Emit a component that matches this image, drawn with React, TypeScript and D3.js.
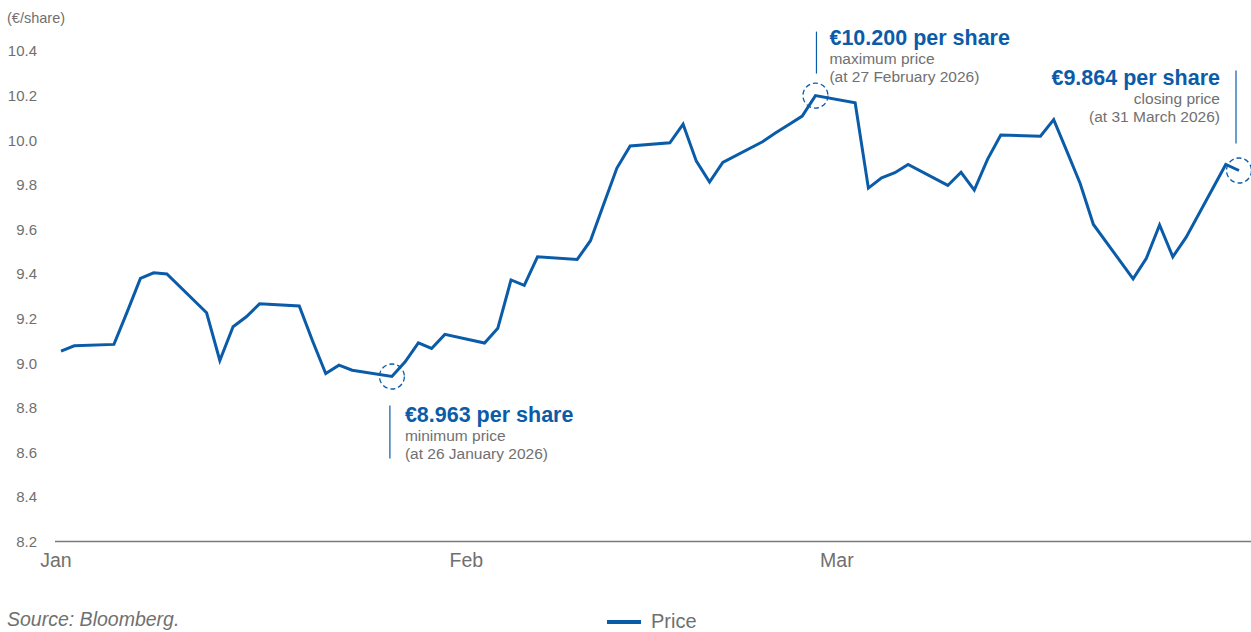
import React from 'react';
import * as d3 from 'd3';

// Share price, Q1 2026 (€/share)
const tradingDays = [
    "2026-01-01", "2026-01-02", "2026-01-05", "2026-01-06", "2026-01-07", "2026-01-08", "2026-01-09",
    "2026-01-12", "2026-01-13", "2026-01-14", "2026-01-15", "2026-01-16",
    "2026-01-19", "2026-01-20", "2026-01-21", "2026-01-22", "2026-01-23",
    "2026-01-26", "2026-01-27", "2026-01-28", "2026-01-29", "2026-01-30",
    "2026-02-02", "2026-02-03", "2026-02-04", "2026-02-05", "2026-02-06",
    "2026-02-09", "2026-02-10", "2026-02-11", "2026-02-12", "2026-02-13",
    "2026-02-16", "2026-02-17", "2026-02-18", "2026-02-19", "2026-02-20",
    "2026-02-23", "2026-02-24", "2026-02-25", "2026-02-26", "2026-02-27",
    "2026-03-02", "2026-03-03", "2026-03-04", "2026-03-05", "2026-03-06",
    "2026-03-09", "2026-03-10", "2026-03-11", "2026-03-12", "2026-03-13",
    "2026-03-16", "2026-03-17", "2026-03-18", "2026-03-19", "2026-03-20",
    "2026-03-23", "2026-03-24", "2026-03-25", "2026-03-26", "2026-03-27",
    "2026-03-30", "2026-03-31",
];

const prices = [
    9.054, 9.078, 9.084, 9.23, 9.38, 9.405, 9.40,
    9.226, 9.012, 9.163, 9.208, 9.266,
    9.256, 9.10, 8.953, 8.991, 8.968,
    8.94, 9.006, 9.091, 9.066, 9.129,
    9.09, 9.156, 9.373, 9.349, 9.477,
    9.465, 9.549, 9.713, 9.875, 9.974,
    9.988, 10.072, 9.906, 9.812, 9.90,
    9.993, 10.033, 10.07, 10.108, 10.200,
    10.168, 9.785, 9.831, 9.854, 9.891,
    9.797, 9.856, 9.776, 9.914, 10.023,
    10.018, 10.092, 9.95, 9.806, 9.622,
    9.378, 9.47, 9.62, 9.477, 9.564,
    9.891, 9.864,
];

const yTicks = [8.2, 8.4, 8.6, 8.8, 9.0, 9.2, 9.4, 9.6, 9.8, 10.0, 10.2, 10.4];
const monthLabels = ["Jan", "Feb", "Mar"];
const monthStarts = ["2026-01-01", "2026-02-01", "2026-03-01"];

const calloutDates = ["2026-01-26", "2026-02-27", "2026-03-31"];
const calloutTitles = ["€8.963 per share", "€10.200 per share", "€9.864 per share"];
const calloutSubtitles = ["minimum price", "maximum price", "closing price"];
const calloutNotes = ["(at 26 January 2026)", "(at 27 February 2026)", "(at 31 March 2026)"];

const BLUE = "#0b5ca8";
const GREY = "#707070";
const FONT = "'Liberation Sans', Arial, Helvetica, sans-serif";

const parse = d3.timeParse("%Y-%m-%d");

const App: React.FC = () => {
    const width = 1251;
    const height = 632;

    const x = d3.scaleTime()
        .domain([parse("2026-01-01") as Date, parse("2026-03-31") as Date])
        .range([61, 1239]);
    const y = d3.scaleLinear().domain([8.2, 10.4]).range([541.5, 51]);

    const data = tradingDays.map((d, i) => ({ date: parse(d) as Date, value: prices[i] }));
    const line = d3.line<{ date: Date; value: number }>()
        .x(d => x(d.date))
        .y(d => y(d.value));

    // callout layout: offsets from the marked point (leader line, text block)
    const layouts = [
        { lx: -2, l1: 29, l2: 82, tx: 13, anchor: "start", base: [45, 64, 82] },
        { lx: 1, l1: -64, l2: -22, tx: 14, anchor: "start", base: [-50.5, -31.5, -13.5] },
        { lx: -3, l1: -100, l2: -27, tx: -19, anchor: "end", base: [-85.5, -66.5, -48.5] },
    ];

    return (
        <svg width={width} height={height}
            style={{ position: "absolute", left: 0, top: 0, background: "#fff" }}
            fontFamily={FONT}>
            <text x={7} y={23} fontSize={14.5} fill={GREY}>(€/share)</text>

            {yTicks.map(t => (
                <text key={t} x={37} y={y(t)} dy="0.36em" textAnchor="end" fontSize={15} fill={GREY}>
                    {t.toFixed(1)}
                </text>
            ))}

            <line x1={55} x2={width} y1={y(8.2)} y2={y(8.2)} stroke="#7a7a7a" strokeWidth={1.5} />

            {monthLabels.map((m, i) => (
                <text key={m} x={x(parse(monthStarts[i]) as Date) - 5} y={567}
                    textAnchor="middle" fontSize={19.5} fill={GREY}>{m}</text>
            ))}

            <path d={line(data) || ""} fill="none" stroke={BLUE} strokeWidth={3}
                strokeLinejoin="miter" />

            {calloutDates.map((d, i) => {
                const idx = tradingDays.indexOf(d);
                const cx = x(parse(d) as Date);
                const cy = y(prices[idx]);
                const L = layouts[i];
                return (
                    <g key={d}>
                        <circle cx={cx} cy={cy} r={12.5} fill="none" stroke={BLUE}
                            strokeWidth={1.3} strokeDasharray="5,3" />
                        <line x1={cx + L.lx} x2={cx + L.lx} y1={cy + L.l1} y2={cy + L.l2}
                            stroke={BLUE} strokeWidth={1.2} />
                        <text x={cx + L.tx} y={cy + L.base[0]} textAnchor={L.anchor}
                            fontSize={21.5} fontWeight="bold" fill={BLUE}>{calloutTitles[i]}</text>
                        <text x={cx + L.tx} y={cy + L.base[1]} textAnchor={L.anchor}
                            fontSize={15.5} fill={GREY}>{calloutSubtitles[i]}</text>
                        <text x={cx + L.tx} y={cy + L.base[2]} textAnchor={L.anchor}
                            fontSize={15.5} fill={GREY}>{calloutNotes[i]}</text>
                    </g>
                );
            })}

            <text x={7} y={626} fontSize={19.5} fontStyle="italic" fill={GREY}>Source: Bloomberg.</text>

            <line x1={607} x2={641} y1={622} y2={622} stroke={BLUE} strokeWidth={4} />
            <text x={651} y={628} fontSize={20} fill={GREY}>Price</text>
        </svg>
    );
};

export default App;
